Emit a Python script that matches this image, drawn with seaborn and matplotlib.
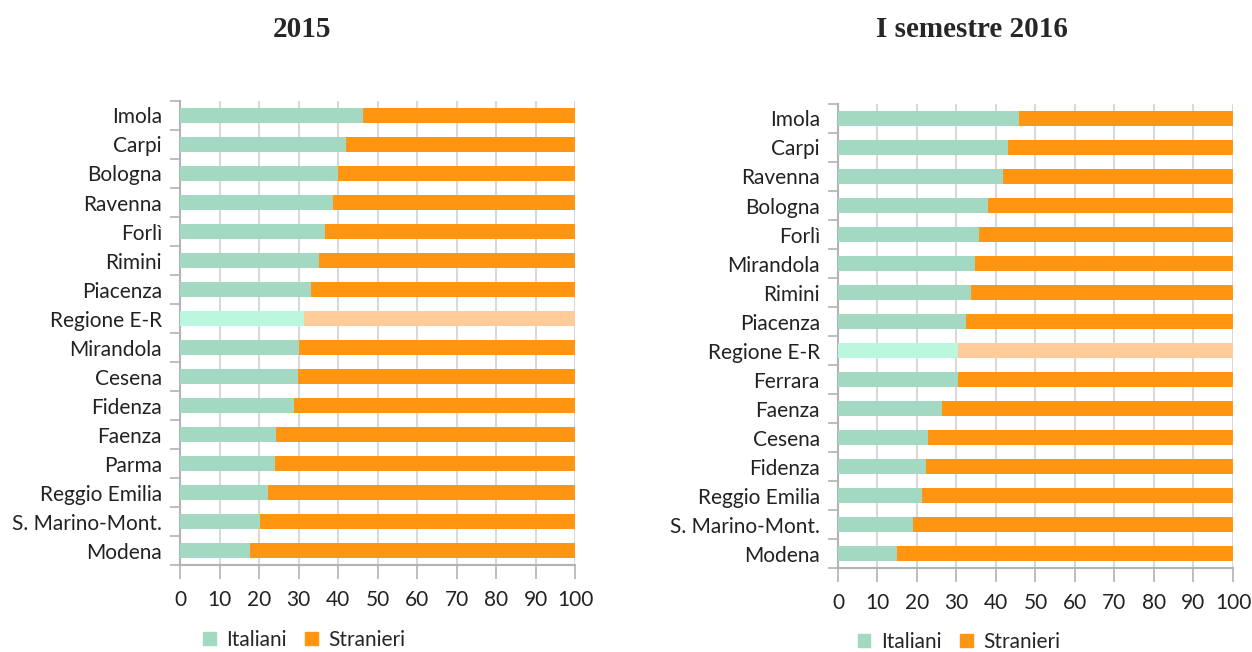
import numpy as np
import pandas as pd
import matplotlib
matplotlib.use("Agg")
import matplotlib.pyplot as plt
import seaborn as sns
from matplotlib.patches import Patch

# 2015
cats_2015 = ["Imola", "Carpi", "Bologna", "Ravenna", "Forlì", "Rimini", "Piacenza",
             "Regione E-R", "Mirandola", "Cesena", "Fidenza", "Faenza", "Parma",
             "Reggio Emilia", "S. Marino-Mont.", "Modena"]
ital_2015 = [46.2, 42.1, 40.1, 38.8, 36.8, 35.3, 33.2, 31.4, 30.2, 29.9, 28.9,
             24.4, 24.1, 22.3, 20.3, 17.8]

# I semestre 2016
cats_2016 = ["Imola", "Carpi", "Ravenna", "Bologna", "Forlì", "Mirandola", "Rimini",
             "Piacenza", "Regione E-R", "Ferrara", "Faenza", "Cesena", "Fidenza",
             "Reggio Emilia", "S. Marino-Mont.", "Modena"]
ital_2016 = [45.9, 43.1, 41.8, 38.0, 35.7, 34.7, 33.7, 32.5, 30.4, 30.4, 26.4,
             22.8, 22.3, 21.3, 19.0, 15.0]

titles = ["2015", "I semestre 2016"]
xticks = list(range(0, 101, 10))

GREEN, ORANGE = "#A3D9C3", "#FF9510"
GREEN_L, ORANGE_L = "#BBF7DF", "#FFCC99"
GRID, SPINE = "#D9D9D9", "#B3B3B3"

sns.set_theme(style="white")
plt.rcParams["font.family"] = ["Lato", "DejaVu Sans"]

fig = plt.figure(figsize=(12.52, 6.52), dpi=100)
axes = [fig.add_axes([0.1438, 0.1334, 0.3155, 0.7117]),
        fig.add_axes([0.6693, 0.1288, 0.3155, 0.7117])]

for ax, cats, ital, title in zip(axes, [cats_2015, cats_2016],
                                 [ital_2015, ital_2016], titles):
    df = pd.DataFrame({"cat": cats, "Italiani": ital})
    df["Stranieri"] = 100 - df["Italiani"]
    df["tot"] = df["Italiani"] + df["Stranieri"]
    pal_o = {c: (ORANGE_L if c == "Regione E-R" else ORANGE) for c in cats}
    pal_g = {c: (GREEN_L if c == "Regione E-R" else GREEN) for c in cats}
    sns.barplot(data=df, x="tot", y="cat", hue="cat", palette=pal_o, orient="h",
                width=0.52, legend=False, ax=ax, saturation=1, zorder=3)
    sns.barplot(data=df, x="Italiani", y="cat", hue="cat", palette=pal_g, orient="h",
                width=0.52, legend=False, ax=ax, saturation=1, zorder=3)
    for p in ax.patches:
        p.set_linewidth(0)
    ax.set_xlim(0, 100)
    ax.set_ylim(len(cats) - 0.5, -0.5)
    ax.set_xticks(xticks)
    ax.set_xticklabels([str(t) for t in xticks], fontsize=15, color="#222222")
    ax.set_yticks(range(len(cats)))
    ax.set_yticklabels(cats, fontsize=15, color="#222222")
    ax.set_yticks(np.arange(-0.5, len(cats)), minor=True)
    ax.tick_params(axis="y", which="major", length=0, pad=13)
    ax.tick_params(axis="y", which="minor", length=7, width=1.2, color=SPINE, left=True)
    ax.tick_params(axis="x", length=10, width=1.2, color=SPINE, pad=8, bottom=True)
    ax.set_xlabel("")
    ax.set_ylabel("")
    ax.grid(axis="x", color=GRID, linewidth=1.5, zorder=0)
    ax.set_axisbelow(True)
    for s in ["top", "right"]:
        ax.spines[s].set_visible(False)
    for s in ["left", "bottom"]:
        ax.spines[s].set_color(SPINE)
        ax.spines[s].set_linewidth(1.5)

fig.text(0.241, 0.955, titles[0], ha="center", va="center", fontsize=21,
         fontweight="bold", family="Liberation Serif")
fig.text(0.776, 0.955, titles[1], ha="center", va="center", fontsize=21,
         fontweight="bold", family="Liberation Serif")

handles = [Patch(color=GREEN, label="Italiani"), Patch(color=ORANGE, label="Stranieri")]
for xc, yc in [(0.243, 0.019), (0.766, 0.015)]:
    fig.legend(handles=handles, loc="center", bbox_to_anchor=(xc, yc), ncol=2,
               frameon=False, fontsize=15, handlelength=0.6, handleheight=0.6,
               handletextpad=0.5, columnspacing=0.9, borderpad=0.1)

fig.savefig("out.png", dpi=100)
